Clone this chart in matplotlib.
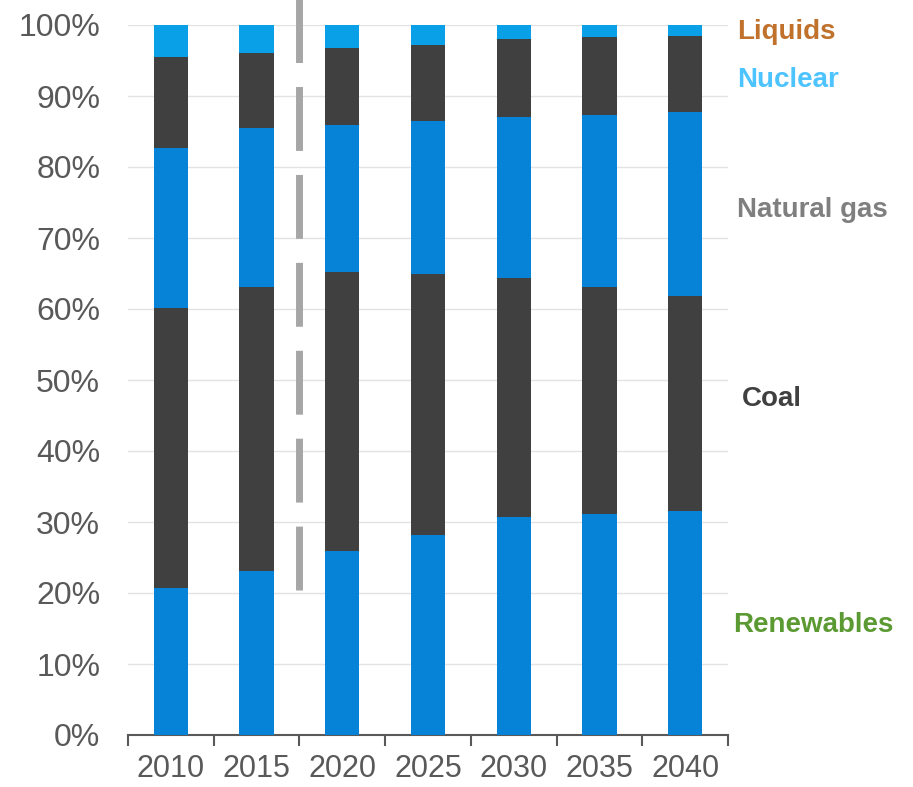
import numpy as np
import matplotlib.pyplot as plt

plt.rcParams['font.family'] = ['Liberation Sans', 'DejaVu Sans']

years = ['2010', '2015', '2020', '2025', '2030', '2035', '2040']
# cumulative shares (%), stacked bottom to top
renewables = [20.7, 23.1, 25.9, 28.2, 30.7, 31.1, 31.5]
coal_top = [60.1, 63.1, 65.2, 64.9, 64.4, 63.1, 61.8]
gas_top = [82.7, 85.5, 85.9, 86.5, 87.0, 87.3, 87.7]
nuclear_top = [95.5, 96.1, 96.8, 97.2, 98.0, 98.3, 98.5]
liquids_top = [100, 100, 100, 100, 100, 100, 100]

labels = ['Liquids', 'Nuclear', 'Natural gas', 'Coal', 'Renewables']
label_colors = ['#c0712c', '#4dc3ff', '#7f7f7f', '#404040', '#5b9a32']
label_y = [99, 92.2, 74, 47.3, 15.5]
label_x = [737, 737, 737, 742, 733]

fig = plt.figure(figsize=(9.13, 7.87), dpi=100)
ax = fig.add_axes([128/913, 52/787, 600/913, 710/787])

x = np.arange(len(years))
w = 0.4
bottoms = np.zeros(len(years))
cols = ['#0683d6', '#404040', '#0683d6', '#404040', '#0aa0e8']
for tops, c in zip([renewables, coal_top, gas_top, nuclear_top, liquids_top], cols):
    tops = np.array(tops)
    ax.bar(x, tops - bottoms, w, bottom=bottoms, color=c, zorder=3)
    bottoms = tops

ax.set_xlim(-0.5, len(years) - 0.5)
ax.set_ylim(0, 100)
ax.set_yticks(np.arange(0, 101, 10))
ax.set_yticklabels([f'{v}%' for v in range(0, 101, 10)])
ax.yaxis.grid(True, color='#e3e3e3', lw=1, zorder=0)
ax.tick_params(axis='y', length=0, pad=20, labelsize=23, labelcolor='#595959')

ax.set_xticks(x)
ax.set_xticklabels(years)
ax.set_xticks(np.arange(-0.5, len(years)), minor=True)
ax.tick_params(axis='x', which='major', length=0, pad=14, labelsize=22, labelcolor='#595959')
ax.tick_params(axis='x', which='minor', length=8, width=1.5, color='#595959')

for s in ['top', 'right', 'left']:
    ax.spines[s].set_visible(False)
ax.spines['bottom'].set_color('#595959')
ax.spines['bottom'].set_linewidth(1.5)

# projection divider
ax.plot([1.5, 1.5], [20.4, 103.6], color='#a6a6a6', lw=5,
        dashes=(9.2, 3.46), clip_on=False, zorder=4)

for lab, c, yv, xp in zip(labels, label_colors, label_y, label_x):
    fig.text(xp/913, (52 + yv*7.1)/787, lab, color=c, fontsize=20,
             fontweight='bold', va='center', ha='left')

fig.savefig('out.png', dpi=100)
